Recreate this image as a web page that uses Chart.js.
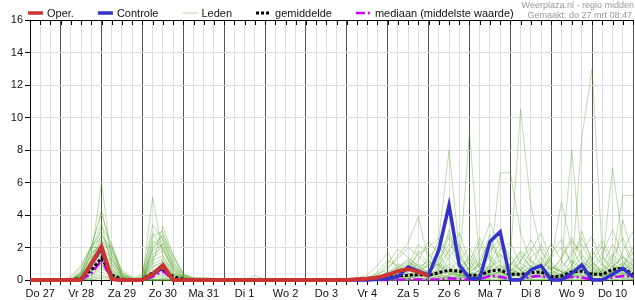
<!DOCTYPE html>
<html><head><meta charset="utf-8">
<script src="https://cdn.jsdelivr.net/npm/chart.js@4"></script>
<style>html,body{margin:0;padding:0;background:#fff}#wrap{width:635px;height:300px;position:relative}</style>
</head><body><div id="wrap"><canvas id="c"></canvas></div>
<script>
// ---- categories ----
const dagen = ['Do 27','Vr 28','Za 29','Zo 30','Ma 31','Di 1','Wo 2','Do 3','Vr 4','Za 5','Zo 6','Ma 7','Di 8','Wo 9','Do 10','Vr 11'];
const startUur = 6, stapUur = 6, aantal = 60;
const yTicks = [0,2,4,6,8,10,12,14,16];

// ---- series (mm per 6 uur) ----
const oper = [0,0,0,0,0,0,1.0,2.05,0.05,0,
 0,0,0.35,0.92,0,0,0,0,0,0,
 0,0,0,0,0,0,0,0,0,0,
 0,0,0.05,0.08,0.15,0.32,0.55,0.68,0.5,0.25,
 null,null,null,null,null,null,null,null,null,null,
 null,null,null,null,null,null,null,null,null,null];
const controle = [0,0,0,0,0,0,0.95,1.95,0.05,0,
 0,0,0.3,0.85,0,0,0,0,0,0,
 0,0,0,0,0,0,0,0,0,0,
 0,0,0,0,0.05,0.08,0.2,0.8,0.55,0.3,
 1.85,4.6,0.92,0.1,0.1,2.36,2.97,0,0,0.62,
 0.88,0,0,0.41,0.92,0,0,0.35,0.72,0.2];
const gemiddelde = [0,0,0,0,0,0.1,0.6,1.35,0.3,0.05,
 0,0.05,0.45,0.7,0.2,0.05,0.02,0,0,0,
 0,0,0,0,0,0,0,0,0,0,
 0,0.02,0.05,0.08,0.12,0.18,0.25,0.3,0.32,0.3,
 0.45,0.6,0.55,0.3,0.3,0.55,0.62,0.35,0.35,0.45,
 0.5,0.2,0.25,0.5,0.55,0.35,0.35,0.65,0.72,0.35];
const mediaan = [0,0,0,0,0,0,0.4,1.2,0.05,0,
 0,0,0.2,0.55,0.02,0,0,0,0,0,
 0,0,0,0,0,0,0,0,0,0,
 0,0,0,0,0,0,0.02,0.03,0.03,0.02,
 0.05,0.1,0.06,0.02,0.05,0.25,0.2,0.05,0.05,0.2,
 0.25,0.08,0.05,0.2,0.15,0.03,0.05,0.15,0.25,0.2];
const leden = [
[0,0,0,0,0,0.3,1.5,6.0,1.0,0.1, 0,0,0.8,1.2,0.3,0,0,0,0,0, 0,0,0,0,0,0,0,0,0,0, 0,0,0,0,0.2,0.5,0.8,1.2,0.6,0.3, 0.5,1.0,0.4,0.2,0.6,1.5,0.8,0.3,0.5,1.2, 0.8,0.3,0.2,0.6,1.0,0.5,0.2,0.8,1.4,0.6],
[0,0,0,0,0,0.5,2.0,4.3,1.5,0.2, 0,0.2,5.1,1.5,0.4,0.1,0,0,0,0, 0,0,0,0,0,0,0,0,0,0, 0,0,0.1,0.3,0.9,1.7,0.6,0.2,0.4,1.0, 2.5,8.0,1.8,0.5,0.3,0.8,1.2,0.4,0.2,0.6, 2.2,1.0,0.3,0.1,0.5,1.8,0.9,0.3,0.6,1.0],
[0,0,0,0,0.1,0.8,2.1,4.1,2.0,0.3, 0.1,0,1.0,3.3,1.5,0.3,0.1,0,0,0, 0,0,0,0,0,0,0,0,0,0, 0,0,0,0.2,0.4,0.6,1.5,2.3,3.9,1.2, 0.6,0.3,0.8,9.1,1.0,0.4,0.2,0.5,1.5,0.8, 0.3,0.1,0.4,1.2,0.8,0.3,0.6,1.6,0.9,0.4],
[0,0,0,0,0,0.4,1.8,3.5,0.8,0, 0,0.3,3.4,2.5,0.8,0.2,0,0,0,0, 0,0,0,0,0,0,0,0,0,0, 0,0,0,0,0,0.3,0.8,0.5,1.2,2.4, 1.6,2.8,1.4,0.6,1.8,3.5,2.1,0.7,0.3,0.4, 1.0,2.3,1.2,0.4,0.2,0.6,1.4,0.8,0.3,0.2],
[0,0,0,0,0,0.2,1.2,3.3,2.2,0.5, 0.1,0.1,2.7,3.0,1.2,0.3,0.1,0,0,0, 0,0,0,0,0,0,0,0,0,0, 0,0,0,0,0.1,0.2,0.5,1.0,0.7,0.4, 0.3,1.4,2.2,0.9,0.4,0.8,6.6,6.6,2.9,1.1, 0.5,0.2,0.8,1.5,2.6,1.2,0.4,0.2,0.5,1.3],
[0,0,0,0,0,0.6,2.0,3.0,1.2,0.2, 0,0.1,2.4,2.0,0.6,0.1,0,0,0,0, 0,0,0,0,0,0,0,0,0,0, 0,0,0,0,0,0.1,0.3,0.6,1.8,1.0, 0.4,0.6,1.2,2.0,0.8,0.3,0.5,1.4,10.5,4.6, 1.8,0.6,0.3,0.5,1.1,0.7,0.3,0.8,1.5,0.7],
[0,0,0,0,0,0.3,1.0,2.8,1.8,0.4, 0.1,0,2.2,2.7,1.0,0.2,0,0,0,0, 0,0,0,0,0,0,0,0,0,0, 0,0,0,0,0,0,0.2,0.4,0.3,0.6, 1.3,2.6,0.9,0.3,0.2,0.6,0.9,0.4,0.6,1.8, 2.9,1.1,0.5,0.5,8.8,13.0,1.5,0.5,0.3,0.8],
[0,0,0,0,0.2,0.9,2.1,2.6,2.0,0.6, 0.2,0,2.0,2.5,1.4,0.4,0.1,0,0,0, 0,0,0,0,0,0,0,0,0,0, 0,0,0,0,0.3,1.0,1.9,1.4,0.8,0.5, 0.9,0.5,0.3,0.8,2.3,1.2,0.6,0.2,0.4,0.9, 0.6,0.3,1.0,8.0,1.2,0.5,0.2,0.6,1.0,0.5],
[0,0,0,0,0,0.1,0.8,2.4,1.5,0.3, 0,0,1.8,2.2,0.9,0.2,0,0,0,0, 0,0,0,0,0,0,0,0,0,0, 0,0,0,0,0,0.2,0.4,0.9,2.2,1.6, 0.8,0.4,0.2,0.5,0.9,2.8,1.0,0.4,0.2,0.3, 0.7,1.2,4.8,2.0,0.8,0.4,1.0,6.9,2.3,0.8],
[0,0,0,0,0,0.4,1.6,2.2,1.0,0.1, 0,0,1.6,2.0,0.8,0.1,0,0,0,0, 0,0,0,0,0,0,0,0,0,0, 0,0,0,0,0,0,0.1,0.3,0.6,0.9, 1.5,0.7,0.3,0.2,0.4,1.0,2.4,1.5,0.6,0.3, 0.2,0.5,1.4,2.6,1.3,0.6,0.3,1.2,5.2,5.2],
[0,0,0,0,0,0.5,2.0,2.0,2.1,0.3, 0,0,1.4,1.8,0.6,0.1,0,0,0,0, 0,0,0,0,0,0,0,0,0,0, 0,0,0,0,0,0.1,0.3,0.2,0.5,1.4, 2.1,1.2,0.5,0.2,0.3,0.6,0.4,0.9,1.7,0.8, 0.4,0.2,0.3,0.9,1.8,2.7,1.0,0.4,3.7,1.5],
[0,0,0,0,0,0.2,1.1,1.9,0.6,0, 0,0,1.2,1.5,0.5,0,0,0,0,0, 0,0,0,0,0,0,0,0,0,0, 0,0,0,0,0,0,0,0.2,0.4,0.3, 0.6,1.8,2.9,1.1,0.5,0.3,0.2,0.5,1.1,2.5, 1.3,0.5,0.2,0.4,0.6,0.3,0.8,2.2,1.2,0.4],
[0,0,0,0,0,0.3,1.4,1.8,0.7,0.1, 0,0,1.0,1.3,0.4,0.1,0,0,0,0, 0,0,0,0,0,0,0,0,0,0, 0,0,0,0.1,0.2,0.4,0.7,1.3,0.9,0.4, 0.2,0.5,0.3,0.1,1.2,2.0,1.4,0.6,0.3,0.5, 0.9,0.4,0.2,0.6,1.5,0.8,0.3,0.5,0.9,2.0],
[0,0,0,0,0,0.1,0.6,1.6,0.9,0.2, 0,0,0.8,1.1,0.3,0,0,0,0,0, 0,0,0,0,0,0,0,0,0,0, 0,0,0,0,0,0,0.2,0.1,0.3,0.2, 0.1,0.3,0.7,0.4,0.2,0.4,0.9,0.5,0.2,0.1, 0.3,0.8,0.5,0.2,0.4,1.0,0.6,0.3,0.2,0.4],
[0,0,0,0,0,0.4,1.2,1.5,0.4,0, 0,0,0.6,0.9,0.2,0,0,0,0,0, 0,0,0,0,0,0,0,0,0,0, 0,0,0,0,0,0.1,0.4,0.8,0.5,0.2, 0.4,0.2,0.1,0.3,0.6,0.2,0.1,0.3,0.8,0.4, 0.2,0.1,0.4,0.7,0.3,0.2,0.5,0.9,0.4,0.2],
[0,0,0,0,0,0.2,0.9,1.4,1.2,0.4, 0.1,0,0.5,0.7,0.2,0,0,0,0,0, 0,0,0,0,0,0,0,0,0,0, 0,0,0,0,0,0,0,0.1,0.2,0.6, 1.0,0.4,0.2,0.1,0.1,0.3,0.5,0.2,0.1,0.2, 0.4,0.2,0.1,0.3,0.5,0.3,0.2,0.4,0.7,0.3],
[0,0,0,0,0,0.1,0.5,1.3,0.5,0, 0,0,0.4,0.5,0.1,0,0,0,0,0, 0,0,0,0,0,0,0,0,0,0, 0,0,0,0,0,0,0,0,0.1,0.2, 0.2,0.1,0.3,0.2,0.1,0.5,0.3,0.1,0,0.2, 0.5,0.3,0.1,0.2,0.3,0.1,0.1,0.2,0.4,0.2],
[0,0,0,0,0,0.3,0.7,1.2,0.3,0, 0,0,0.3,0.4,0.1,0,0,0,0,0, 0,0,0,0,0,0,0,0,0,0, 0,0,0,0,0,0,0.1,0.2,0.1,0, 0.1,0.2,0.1,0,0.2,0.3,0.1,0,0.1,0.3, 0.2,0.1,0,0.1,0.2,0.1,0,0.1,0.2,0.1],
[0,0,0,0,0,0.1,0.4,1.1,0.6,0.1, 0,0,0.2,0.3,0.1,0,0,0,0,0, 0,0,0,0,0,0,0,0,0,0, 0,0,0,0,0,0,0,0,0,0.1, 0,0.1,0.2,0.1,0,0.1,0.2,0.1,0,0, 0.1,0,0.1,0.2,0.1,0,0.1,0.3,0.1,0],
[0,0,0,0,0,0.2,0.6,1.0,0.2,0, 0,0,0.1,0.2,0,0,0,0,0,0, 0,0,0,0,0,0,0,0,0,0, 0,0,0,0,0,0,0,0,0,0, 0.1,0,0,0,0.1,0,0,0.1,0,0, 0,0.1,0,0,0,0.1,0,0,0.1,0],
[0,0,0,0,0,0.1,0.3,0.9,0.4,0, 0,0,0,0,0,0,0,0,0,0, 0,0,0,0,0,0,0,0,0,0, 0,0,0,0,0.5,1.2,0.9,0.4,0.2,0.5, 1.1,0.6,0.3,1.6,0.8,0.3,0.5,1.0,0.6,0.2, 0.4,0.9,0.5,0.3,0.6,1.2,2.1,1.0,0.4,0.3],
[0,0,0,0,0,0,0.3,0.8,0.2,0, 0,0,0,0.1,0,0,0,0,0,0, 0,0,0,0,0,0,0,0,0,0, 0,0,0,0,0,0,0.3,0.9,0.6,0.3, 0.7,3.1,1.0,0.4,0.2,0.6,1.6,0.8,0.3,0.5, 1.4,0.6,0.3,0.8,3.0,1.1,0.4,0.2,1.8,3.0],
[0,0,0,0,0,0,0.2,0.7,0.3,0, 0,0,0,0,0,0,0,0,0,0, 0,0,0,0,0,0,0,0,0,0, 0,0,0,0,0,0.1,0.2,0.5,1.0,0.7, 0.3,0.2,0.5,1.1,2.6,1.4,0.5,0.2,0.4,0.8, 0.5,1.6,2.5,0.9,0.4,0.2,0.6,1.1,0.5,0.2],
[0,0,0,0,0,0,0.1,0.5,0.2,0, 0,0,0,0,0,0,0,0,0,0, 0,0,0,0,0,0,0,0,0,0, 0,0,0,0,0,0,0,0.1,0.3,0.2, 0.4,0.8,0.4,0.1,0.3,0.9,0.5,0.2,1.2,2.0, 0.9,0.3,0.1,0.4,0.8,0.4,0.2,0.5,1.1,0.6],
[0,0,0,0,0,0,0.1,0.3,0.1,0, 0,0,0,0,0,0,0,0,0,0, 0,0,0,0,0,0,0,0,0,0, 0,0,0,0,0,0,0,0,0.1,0.1, 0.2,0.1,0.1,0.3,0.1,0.2,0.4,0.1,0.1,0.1, 0.2,0.1,0.2,0.3,0.1,0.2,0.1,0.3,0.2,0.1],
[0,0,0,0,0,0,0,0.2,0.1,0, 0,0,0,0,0,0.3,0.15,0.1,0,0, 0,0,0,0,0,0,0,0,0.1,0.1, 0,0,0,0,0,0,0,0,0,0, 0,0,0,0,0,0,0,0,0,0, 0,0,0,0,0,0,0,0,0,0],
[0,0,0,0,0,0,0,0.1,0,0, 0,0,0,0,0.4,0.2,0.1,0.15,0.1,0, 0,0,0.3,0,0,0,0,0,0,0, 0,0,0,0,0,0,0,0,0,0, 0,0,0,0,0,0,0,0,0,0, 0,0,0,0,0,0,0,0,0,0],
[0,0,0,0,0,0.2,1.7,2.1,1.3,0.2, 0,0,1.9,2.8,1.6,0.4,0,0,0,0, 0,0,0,0,0,0,0,0,0,0, 0,0,0,0.1,0.3,0.8,1.3,2.0,1.5,0.8, 1.2,2.2,1.5,0.6,1.4,2.2,1.6,0.9,1.8,1.2, 0.6,1.4,2.0,1.1,0.7,1.5,2.4,1.3,0.8,1.7],
[0,0,0,0,0,0,1.3,2.5,1.7,0.4, 0,0.4,2.9,1.9,0.7,0.1,0,0,0,0, 0,0,0,0,0,0,0,0,0,0, 0,0,0,0,0.2,0.4,1.0,0.7,1.6,2.0, 2.6,1.5,0.8,1.3,0.7,1.7,2.6,1.2,0.6,1.4, 1.9,0.8,0.5,1.8,2.2,0.9,1.6,3.1,1.4,0.9],
[0,0,0,0,0,0,0.9,1.7,0.5,0, 0,0,1.3,2.3,1.1,0.2,0,0,0,0, 0,0,0,0,0,0,0,0,0,0, 0,0,0,0,0,0.2,0.6,1.1,0.8,1.1, 0.9,1.9,1.1,0.5,1.0,0.7,1.9,2.3,1.0,0.6, 1.1,0.6,1.3,2.4,1.6,0.8,0.5,1.4,2.6,1.1]
];

// ---- derived category tables ----
const uurVanDag = [], dagIndex = [], tijden = [];
for (let i = 0; i < aantal; i++) {
  const h = startUur + stapUur * i;
  dagIndex.push(Math.floor(h / 24));
  uurVanDag.push(h % 24);
  tijden.push(dagen[Math.floor(h / 24)] + ' ' + String(h % 24).padStart(2, '0') + ':00');
}

const FONT = '"Liberation Sans", Arial, Helvetica, sans-serif';
Chart.defaults.font.family = FONT;

const datasets = [
  {label:'Oper.', data:oper, borderColor:'#cc3333', borderWidth:4},
  {label:'Controle', data:controle, borderColor:'#3333cc', borderWidth:3.5},
  {label:'gemiddelde', data:gemiddelde, borderColor:'#000000', borderWidth:3, borderDash:[3,2]},
  {label:'mediaan (middelste waarde)', data:mediaan, borderColor:'#cc00ff', borderWidth:2.5, borderDash:[9,3,2,3]},
  ...leden.map(d => ({label:'Leden', data:d, borderColor:'rgba(80,160,40,0.36)', borderWidth:1}))
].map(ds => Object.assign({pointRadius:0, tension:0, fill:false, clip:6, spanGaps:false}, ds));

const legendOrder = ['Oper.','Controle','Leden','gemiddelde','mediaan (middelste waarde)'];

const frame = {
  id:'frame',
  afterDraw(chart) {
    const ctx = chart.ctx, a = chart.chartArea, xs = chart.scales.x;
    ctx.save();
    ctx.strokeStyle = '#000'; ctx.lineWidth = 1; ctx.setLineDash([]);
    ctx.beginPath(); ctx.moveTo(a.left, a.top + 0.5); ctx.lineTo(a.right, a.top + 0.5); ctx.stroke();
    xs.ticks.forEach((t, i) => {
      const px = Math.round(xs.getPixelForTick(i)) + 0.5;
      ctx.beginPath(); ctx.moveTo(px, a.top); ctx.lineTo(px, a.top + 5); ctx.stroke();
    });
    ctx.font = '11px ' + FONT; ctx.textBaseline = 'middle'; ctx.textAlign = 'left';
    let x = 28; const y = 13.5;
    legendOrder.forEach(name => {
      const ds = chart.data.datasets.find(d => d.label === name);
      const isLid = name === 'Leden';
      ctx.beginPath();
      ctx.setLineDash(ds.borderDash || []);
      ctx.strokeStyle = isLid ? 'rgba(120,190,90,0.55)' : ds.borderColor;
      ctx.lineWidth = isLid ? 1 : Math.min(ds.borderWidth, 3.5);
      ctx.moveTo(x, y - 0.5); ctx.lineTo(x + 15, y - 0.5); ctx.stroke();
      ctx.setLineDash([]);
      ctx.fillStyle = '#111';
      ctx.fillText(name, x + 19, y);
      x += 19 + ctx.measureText(name).width + 24;
    });
    ctx.fillStyle = '#9a9a9a'; ctx.textAlign = 'right'; ctx.textBaseline = 'alphabetic';
    ctx.font = '9px ' + FONT;
    ctx.fillText('Weerplaza.nl - regio midden', 634, 8);
    ctx.fillText('Gemaakt: do 27 mrt 08:47', 632, 18);
    ctx.restore();
  }
};

new Chart(document.getElementById('c'), {
  type:'line',
  data:{labels:tijden, datasets},
  plugins:[frame],
  options:{
    responsive:true, maintainAspectRatio:false, animation:false,
    layout:{padding:{top:20, left:0, right:0, bottom:0}},
    plugins:{legend:{display:false}, tooltip:{enabled:false}},
    scales:{
      x:{
        type:'category',
        grid:{color:c => (uurVanDag[c.index] === 0 ? '#555555' : '#dddddd'), tickLength:5, tickColor:'#000', lineWidth:1},
        border:{color:'#000'},
        ticks:{autoSkip:false, maxRotation:0, minRotation:0, padding:2, color:'#111', font:{size:11},
          callback:(v, i) => (uurVanDag[i] === 12 ? dagen[dagIndex[i]] : '')},
        afterFit:s => { s.height = 20; }
      },
      y:{
        min:0, max:16,
        afterBuildTicks:s => { s.ticks = yTicks.map(v => ({value:v})); },
        grid:{color:'#dddddd', tickLength:5, tickColor:'#000'},
        border:{color:'#000'},
        ticks:{padding:2, color:'#111', font:{size:11}},
        afterFit:s => { s.width = 30; }
      }
    }
  }
});
</script></body></html>
